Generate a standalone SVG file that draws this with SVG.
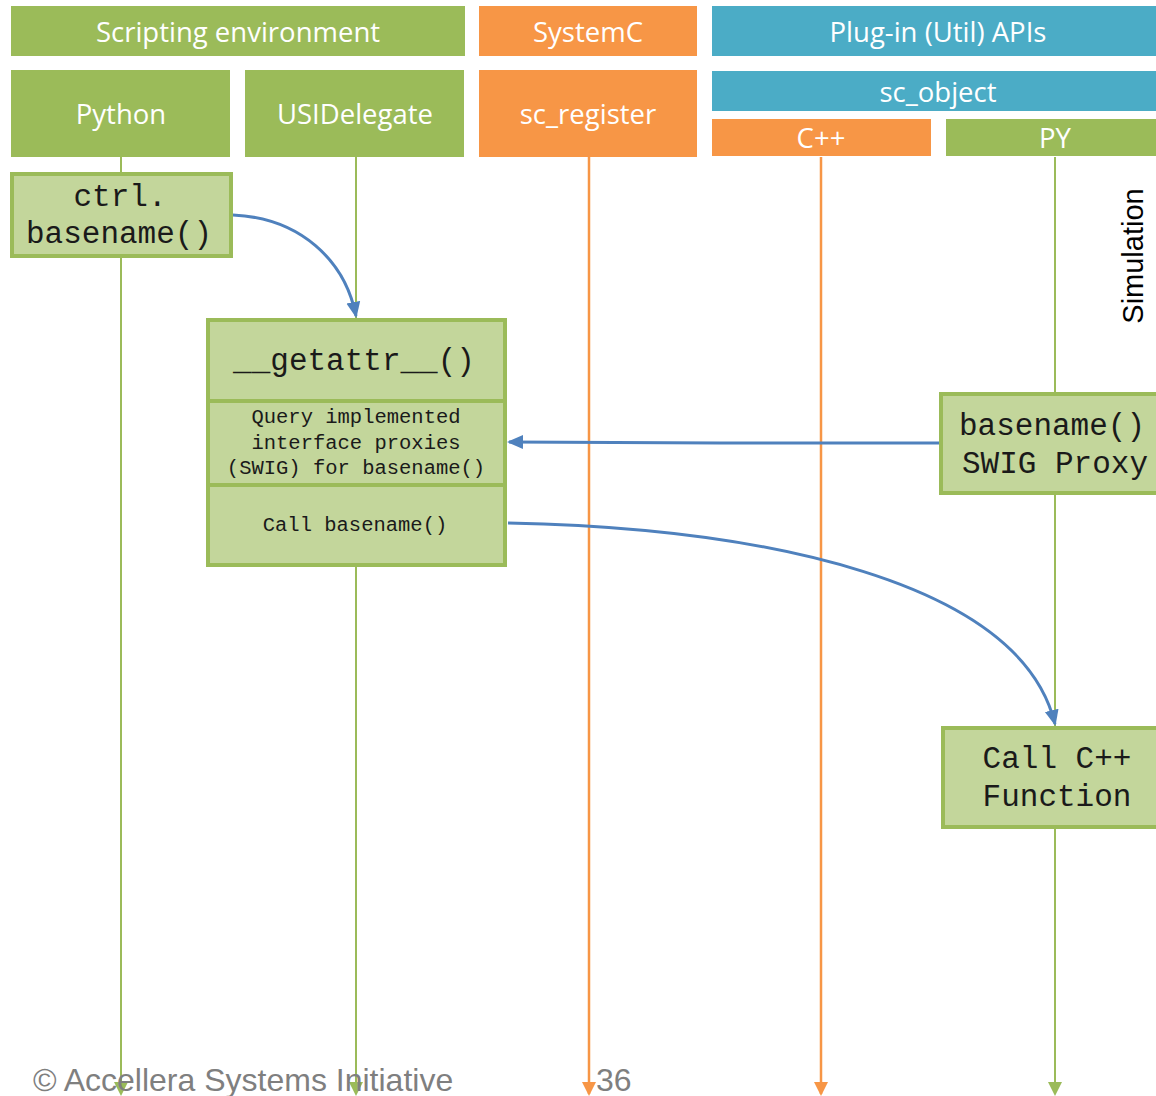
<svg xmlns="http://www.w3.org/2000/svg" width="1156" height="1096" viewBox="0 0 1156 1096">
  <style>
    .hdr { font-family: "Open Sans", "Noto Sans", sans-serif; font-size: 27.5px; fill: #ffffff; text-anchor: middle; }
    .g { fill: #9bbb59; }
    .o { fill: #f79646; }
    .b { fill: #4bacc6; }
    .box { fill: #c3d69b; stroke: #9bbb59; stroke-width: 4; }
    .mono { font-family: "Liberation Mono", "Courier New", monospace; fill: #1a1a1a; text-anchor: middle; }
    .big { font-size: 31px; }
    .small { font-size: 20.5px; }
    .life-g { stroke: #9bbb59; stroke-width: 2; fill: none; }
    .life-o { stroke: #f79646; stroke-width: 2.5; fill: none; }
    .msg { stroke: #4f81bd; stroke-width: 3; fill: none; }
  </style>
  <defs>
    <marker id="ahG" markerWidth="14" markerHeight="14" refX="7" refY="12" markerUnits="userSpaceOnUse" viewBox="0 0 14 14">
      <path d="M0,0 L14,0 L7,14 Z" fill="#9bbb59"/>
    </marker>
    <marker id="ahO" markerWidth="14" markerHeight="14" refX="7" refY="12" markerUnits="userSpaceOnUse" viewBox="0 0 14 14">
      <path d="M0,0 L14,0 L7,14 Z" fill="#f79646"/>
    </marker>
    <marker id="ahB" markerWidth="16" markerHeight="16" refX="14" refY="8" orient="auto" markerUnits="userSpaceOnUse" viewBox="0 0 16 16">
      <path d="M0,1 L16,8 L0,15 Z" fill="#4f81bd"/>
    </marker>
  </defs>

  <rect width="1156" height="1096" fill="#ffffff"/>

  <!-- column headers -->
  <g id="hdr-scripting"><rect class="g" x="11" y="6" width="454" height="50"/><text class="hdr" x="238" y="42">Scripting environment</text></g>
  <g id="hdr-systemc"><rect class="o" x="479" y="6" width="218" height="50"/><text class="hdr" x="588" y="42">SystemC</text></g>
  <g id="hdr-plugin"><rect class="b" x="712" y="6" width="444" height="50"/><text class="hdr" x="938" y="42">Plug-in (Util) APIs</text></g>

  <g id="python"><rect class="g" x="11" y="70" width="219" height="87"/><text class="hdr" x="121" y="124">Python</text></g>
  <g id="usidelegate"><rect class="g" x="245" y="70" width="219" height="87"/><text class="hdr" x="355" y="124">USIDelegate</text></g>
  <g id="sc_register"><rect class="o" x="479" y="70" width="218" height="87"/><text class="hdr" x="588" y="124">sc_register</text></g>
  <g id="sc_object"><rect class="b" x="712" y="71" width="444" height="40"/><text class="hdr" x="938" y="102">sc_object</text></g>
  <g id="cpp"><rect class="o" x="712" y="119" width="219" height="37"/><text class="hdr" x="821" y="148">C++</text></g>
  <g id="py"><rect class="g" x="946" y="119" width="210" height="37"/><text class="hdr" x="1055" y="148">PY</text></g>

  <!-- lifelines and message connectors -->
  <g id="connectors">
    <line class="life-g" x1="121" y1="157" x2="121" y2="1094" marker-end="url(#ahG)"/>
    <line class="life-g" x1="356" y1="157" x2="356" y2="1094" marker-end="url(#ahG)"/>
    <line class="life-o" x1="589" y1="157" x2="589" y2="1094" marker-end="url(#ahO)"/>
    <line class="life-o" x1="821" y1="157" x2="821" y2="1094" marker-end="url(#ahO)"/>
    <line class="life-g" x1="1055" y1="157" x2="1055" y2="1094" marker-end="url(#ahG)"/>
    <path class="msg" d="M233,215 C300,218 345,260 356,316" marker-end="url(#ahB)"/>
    <path class="msg" d="M940,443 L720,443 L509,442" marker-end="url(#ahB)"/>
    <path class="msg" d="M508,523 C760,528 1020,580 1055,724" marker-end="url(#ahB)"/>
  </g>

  <g id="ctrl-basename">
    <rect class="box" x="12" y="174" width="219" height="82"/>
    <text class="mono big" x="120" y="206">ctrl.</text>
    <text class="mono big" x="119" y="243">basename()</text>
  </g>

  <g id="getattr">
    <rect class="box" x="208" y="320" width="297" height="245"/>
    <line x1="208" y1="401" x2="505" y2="401" stroke="#9bbb59" stroke-width="4"/>
    <line x1="208" y1="485" x2="505" y2="485" stroke="#9bbb59" stroke-width="4"/>
    <text class="mono big" x="354" y="370">__getattr__()</text>
    <text class="mono small" x="356" y="423">Query implemented</text>
    <text class="mono small" x="356" y="449">interface proxies</text>
    <text class="mono small" x="356" y="474">(SWIG) for basename()</text>
    <text class="mono small" x="355" y="531">Call basename()</text>
  </g>

  <g id="swig-proxy">
    <rect class="box" x="941" y="394" width="219" height="99"/>
    <text class="mono big" x="1052" y="435">basename()</text>
    <text class="mono big" x="1055" y="473">SWIG Proxy</text>
  </g>

  <g id="call-cpp">
    <rect class="box" x="943" y="728" width="217" height="99"/>
    <text class="mono big" x="1057" y="768">Call C++</text>
    <text class="mono big" x="1057" y="806">Function</text>
  </g>

  <text x="1143" y="256" transform="rotate(-90 1143 256)" font-family="Liberation Sans, Arial, sans-serif" font-size="29" fill="#000000" text-anchor="middle">Simulation</text>

  <text x="33" y="1091" font-family="Liberation Sans, Arial, sans-serif" font-size="32" fill="#7f7f7f">© Accellera Systems Initiative</text>
  <text x="596" y="1091" font-family="Liberation Sans, Arial, sans-serif" font-size="32" fill="#7f7f7f">36</text>
</svg>
